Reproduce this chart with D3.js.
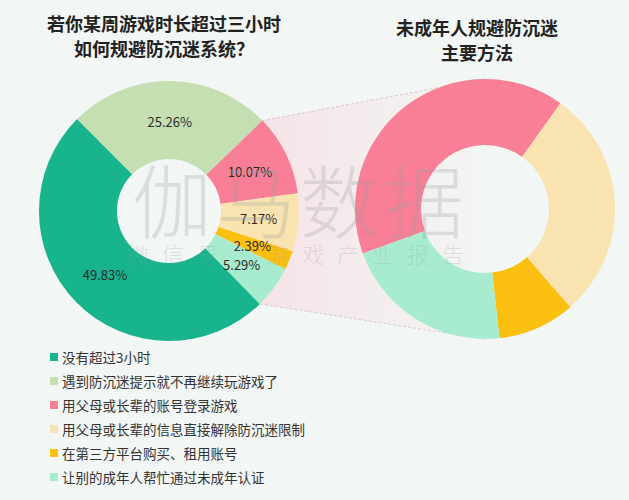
<!DOCTYPE html>
<html><head><meta charset="utf-8">
<script src="https://cdn.jsdelivr.net/npm/d3@7/dist/d3.min.js"></script>
<style>
html,body{margin:0;padding:0;background:#f2f6f4;}
svg{display:block;font-family:"Noto Sans CJK SC","Noto Sans",sans-serif;}
</style></head>
<body>
<svg id="chart" width="629" height="500"></svg>
<script>
const categories = ["没有超过3小时","遇到防沉迷提示就不再继续玩游戏了","用父母或长辈的账号登录游戏","用父母或长辈的信息直接解除防沉迷限制","在第三方平台购买、租用账号","让别的成年人帮忙通过未成年认证"];
const values = [49.83, 25.26, 10.07, 7.17, 2.39, 5.29];
const colors = ["#17b48e","#c4dfb1","#f87f95","#f9e3b0","#fbbf10","#a8ecd0"];
const labels = ["49.83%","25.26%","10.07%","7.17%","2.39%","5.29%"];
const titleLeft = ["若你某周游戏时长超过三小时","如何规避防沉迷系统？"];
const titleRight = ["未成年人规避防沉迷","主要方法"];
const subIdx = [2,3,4,5];
const watermark = ["伽马数据","微信号：游戏产业报告"];

const svg = d3.select("#chart");
const L = {cx:169, cy:211, ri:52, ro:130};
const R = {cx:485, cy:209, ri:64, ro:130};

const total = d3.sum(values);
const startL = -Math.PI/4 - values[0]/total*2*Math.PI;
const pieL = d3.pie().sort(null).value(d=>d.v).startAngle(startL).endAngle(startL+2*Math.PI);
const dataL = categories.map((c,i)=>({c, v:values[i], col:colors[i], lab:labels[i]}));
const arcsL = pieL(dataL);

const startR = -110*Math.PI/180;
const dataR = subIdx.map(i=>dataL[i]);
const pieR = d3.pie().sort(null).value(d=>d.v).startAngle(startR).endAngle(startR+2*Math.PI);
const arcsR = pieR(dataR);

// connecting band
const aTop = arcsL[2].startAngle, aBot = arcsL[5].endAngle;
const p1 = [L.cx + L.ro*Math.sin(aTop), L.cy - L.ro*Math.cos(aTop)];
const p2 = [L.cx + L.ro*Math.sin(aBot), L.cy - L.ro*Math.cos(aBot)];
const q1 = [R.cx, R.cy - R.ro];
const q2 = [R.cx, R.cy + R.ro];
const defs = svg.append("defs");
const grad = defs.append("linearGradient").attr("id","band").attr("gradientUnits","userSpaceOnUse")
  .attr("x1",p1[0]).attr("y1",0).attr("x2",R.cx).attr("y2",0);
grad.append("stop").attr("offset","0%").attr("stop-color","#f6e3e7");
grad.append("stop").attr("offset","100%").attr("stop-color","#f2f6f4");
svg.append("path").attr("d",`M${p1}L${q1}L${q2}L${p2}Z`).attr("fill","url(#band)");
svg.append("line").attr("x1",p1[0]).attr("y1",p1[1]).attr("x2",q1[0]).attr("y2",q1[1])
  .attr("stroke","#d9c9cc").attr("stroke-width",1).attr("stroke-dasharray","3,2");
svg.append("line").attr("x1",p2[0]).attr("y1",p2[1]).attr("x2",q2[0]).attr("y2",q2[1])
  .attr("stroke","#d9c9cc").attr("stroke-width",1).attr("stroke-dasharray","3,2");

// left donut
const arcL = d3.arc().innerRadius(L.ri).outerRadius(L.ro);
const gL = svg.append("g").attr("transform",`translate(${L.cx},${L.cy})`);
gL.selectAll("path").data(arcsL).join("path").attr("d",arcL).attr("fill",d=>d.data.col);
const labR = 90;
gL.selectAll("text").data(arcsL).join("text")
  .attr("x",d=>labR*Math.sin((d.startAngle+d.endAngle)/2))
  .attr("y",d=>-labR*Math.cos((d.startAngle+d.endAngle)/2))
  .attr("text-anchor","middle").attr("dominant-baseline","central")
  .attr("font-size",13).attr("fill","#2a2a2a").text(d=>d.data.lab);

// right donut
const arcR = d3.arc().innerRadius(R.ri).outerRadius(R.ro);
const gR = svg.append("g").attr("transform",`translate(${R.cx},${R.cy})`);
gR.selectAll("path").data(arcsR).join("path").attr("d",arcR).attr("fill",d=>d.data.col);

// titles
svg.append("g").selectAll("text").data(titleLeft).join("text")
  .attr("x",164).attr("y",(d,i)=>23+i*25).attr("text-anchor","middle").attr("dominant-baseline","central")
  .attr("font-size",18).attr("font-weight",600).attr("fill","#222").text(d=>d);
svg.append("g").selectAll("text").data(titleRight).join("text")
  .attr("x",477).attr("y",(d,i)=>27+i*25).attr("text-anchor","middle").attr("dominant-baseline","central")
  .attr("font-size",18).attr("font-weight",600).attr("fill","#222").text(d=>d);

// legend
const lg = svg.append("g").selectAll("g").data(dataL).join("g")
  .attr("transform",(d,i)=>`translate(50,${357+i*24})`);
lg.append("rect").attr("x",0).attr("y",-4).attr("width",8).attr("height",8).attr("fill",d=>d.col);
lg.append("text").attr("x",12).attr("y",0).attr("dominant-baseline","central")
  .attr("font-size",13.5).attr("fill","#333").text(d=>d.c);

// watermark
svg.append("text").attr("x",300).attr("y",197).attr("text-anchor","middle").attr("dominant-baseline","central")
  .attr("font-size",80).attr("font-weight",300).attr("letter-spacing",4).attr("fill","#9aa0a0").attr("opacity",0.28)
  .text(watermark[0]);
svg.append("text").attr("x",302).attr("y",253).attr("text-anchor","middle").attr("dominant-baseline","central")
  .attr("font-size",22).attr("font-weight",300).attr("letter-spacing",13).attr("fill","#9aa0a0").attr("opacity",0.25)
  .text(watermark[1]);
</script>
</body></html>
